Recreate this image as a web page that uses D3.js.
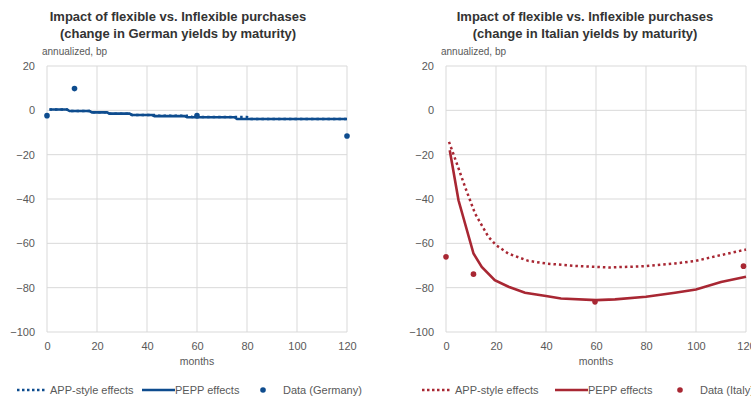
<!DOCTYPE html>
<html><head><meta charset="utf-8">
<script src="https://cdn.jsdelivr.net/npm/d3@7"></script>
<style>body{margin:0;background:#fff}svg{display:block}text{font-family:"Liberation Sans",Arial,sans-serif}</style>
</head><body>
<script>
// ---- data ----
const xTicks = [0, 20, 40, 60, 80, 100, 120];
const yTicks = [20, 0, -20, -40, -60, -80, -100];

const deMonthsPEPP = [1, 8, 9, 17, 18, 24, 25, 33, 34, 42, 43, 55, 56, 75, 76, 120];
const dePEPP       = [0.4, 0.4, -0.3, -0.3, -0.9, -0.9, -1.5, -1.5, -2.1, -2.1, -2.6, -2.6, -3.1, -3.1, -3.9, -3.9];
const deMonthsAPP  = [1, 8, 9, 17, 18, 24, 25, 33, 34, 43, 44, 57, 58, 80, 81, 120];
const deAPP        = [0.4, 0.4, -0.3, -0.3, -0.9, -0.9, -1.5, -1.5, -2.1, -2.1, -2.4, -2.4, -3.0, -3.0, -3.9, -3.9];
const deDataMonths = [0, 11, 60, 120];
const deData       = [-2.4, 9.8, -2.4, -11.6];

const itMonths = [1.5, 5, 11, 14.3, 19.5, 25, 31.6, 40, 46, 60, 67.6, 80, 91.6, 100, 110, 120];
const itPEPP   = [-18, -40.6, -64.6, -70.6, -76.6, -79.6, -82.3, -83.8, -84.9, -85.6, -85.3, -84.1, -82.3, -80.8, -77.4, -75.1];
const itMonthsAPP = [1.2, 4.3, 7.6, 11.6, 16.9, 20, 24.9, 32.9, 40, 51.6, 65, 80, 91.6, 100, 110, 120];
const itAPP       = [-14.2, -23.9, -34.5, -46.5, -57, -60.8, -64.6, -67.9, -69.1, -70.2, -70.9, -70.3, -69.1, -67.9, -65.3, -62.8];
const itDataMonths = [0, 11, 59.6, 119];
const itData       = [-66.1, -73.9, -86.4, -70.3];

const titlesDE = ["Impact of flexible vs. Inflexible purchases", "(change in German yields by maturity)"];
const titlesIT = ["Impact of flexible vs. Inflexible purchases", "(change in Italian yields by maturity)"];
const legendLabels = ["APP-style effects", "PEPP effects"];

// ---- drawing ----
const svg = d3.select("body").append("svg").attr("width", 751).attr("height", 398);

function panel(cfg) {
  const g = svg.append("g");
  const x = d3.scaleLinear().domain([0, 120]).range([cfg.x0, cfg.x0 + 300]);
  const y = d3.scaleLinear().domain([-100, 20]).range([332, 66]);

  g.selectAll(".vg").data(xTicks).join("line")
    .attr("x1", d => x(d)).attr("x2", d => x(d)).attr("y1", y(20)).attr("y2", y(-100))
    .attr("stroke", "#d9d9d9").attr("stroke-width", 1);
  g.selectAll(".hg").data(yTicks).join("line")
    .attr("x1", x(0)).attr("x2", x(120)).attr("y1", d => y(d)).attr("y2", d => y(d))
    .attr("stroke", "#d9d9d9").attr("stroke-width", 1);

  const ax = g.append("g").attr("transform", `translate(0,${y(-100)})`)
    .call(d3.axisBottom(x).tickValues(xTicks).tickSize(0).tickPadding(10));
  const ay = g.append("g").attr("transform", `translate(${x(0)},0)`)
    .call(d3.axisLeft(y).tickValues(yTicks).tickSize(0).tickPadding(12));
  [ax, ay].forEach(a => {
    a.select(".domain").remove();
    a.selectAll("text").attr("fill", "#595959").style("font-size", "11px")
      .style("font-family", '"Liberation Sans",Arial,sans-serif');
  });

  cfg.titles.forEach((t, i) => g.append("text").attr("x", cfg.tx).attr("y", 21 + i * 17)
    .attr("text-anchor", "middle").attr("font-weight", "bold").attr("font-size", "13px")
    .attr("fill", "#333").text(t));
  g.append("text").attr("x", x(0) - 5).attr("y", 55).attr("font-size", "10px")
    .attr("fill", "#595959").text("annualized, bp");
  g.append("text").attr("x", x(60)).attr("y", 365).attr("text-anchor", "middle")
    .attr("font-size", "10.5px").attr("fill", "#595959").text("months");

  const line = d3.line().x(d => x(d[0])).y(d => y(d[1]));
  g.append("path").datum(d3.zip(cfg.appM, cfg.app)).attr("d", line)
    .attr("fill", "none").attr("stroke", cfg.color).attr("stroke-width", 2.5)
    .attr("stroke-dasharray", "2.5,3");
  g.append("path").datum(d3.zip(cfg.peppM, cfg.pepp)).attr("d", line)
    .attr("fill", "none").attr("stroke", cfg.color).attr("stroke-width", 2.6);
  g.selectAll(".pt").data(d3.zip(cfg.dM, cfg.d)).join("circle")
    .attr("cx", d => x(d[0])).attr("cy", d => y(d[1])).attr("r", 2.8).attr("fill", cfg.color);

  const L = cfg.leg, ly = 390;
  g.append("line").attr("x1", L[0]).attr("x2", L[0] + 30).attr("y1", ly).attr("y2", ly)
    .attr("stroke", cfg.color).attr("stroke-width", 2.5).attr("stroke-dasharray", "2.5,2.5");
  g.append("text").attr("x", L[1]).attr("y", ly + 4).attr("font-size", "11px").attr("fill", "#595959").text(legendLabels[0]);
  g.append("line").attr("x1", L[2]).attr("x2", L[2] + 33).attr("y1", ly).attr("y2", ly)
    .attr("stroke", cfg.color).attr("stroke-width", 2.6);
  g.append("text").attr("x", L[2] + 33).attr("y", ly + 4).attr("font-size", "11px").attr("fill", "#595959").text(legendLabels[1]);
  g.append("circle").attr("cx", L[3]).attr("cy", ly).attr("r", 2.8).attr("fill", cfg.color);
  g.append("text").attr("x", L[4]).attr("y", ly + 4).attr("font-size", "11px").attr("fill", "#595959").text(cfg.dataLabel);
}

panel({x0: 47, tx: 178, titles: titlesDE, color: "#0e4c8e",
  appM: deMonthsAPP, app: deAPP, peppM: deMonthsPEPP, pepp: dePEPP, dM: deDataMonths, d: deData,
  leg: [17, 50, 142, 263, 283], dataLabel: "Data (Germany)"});
panel({x0: 446, tx: 585, titles: titlesIT, color: "#a82733",
  appM: itMonthsAPP, app: itAPP, peppM: itMonths, pepp: itPEPP, dM: itDataMonths, d: itData,
  leg: [422, 455, 555, 680, 700], dataLabel: "Data (Italy)"});
</script>
</body></html>
